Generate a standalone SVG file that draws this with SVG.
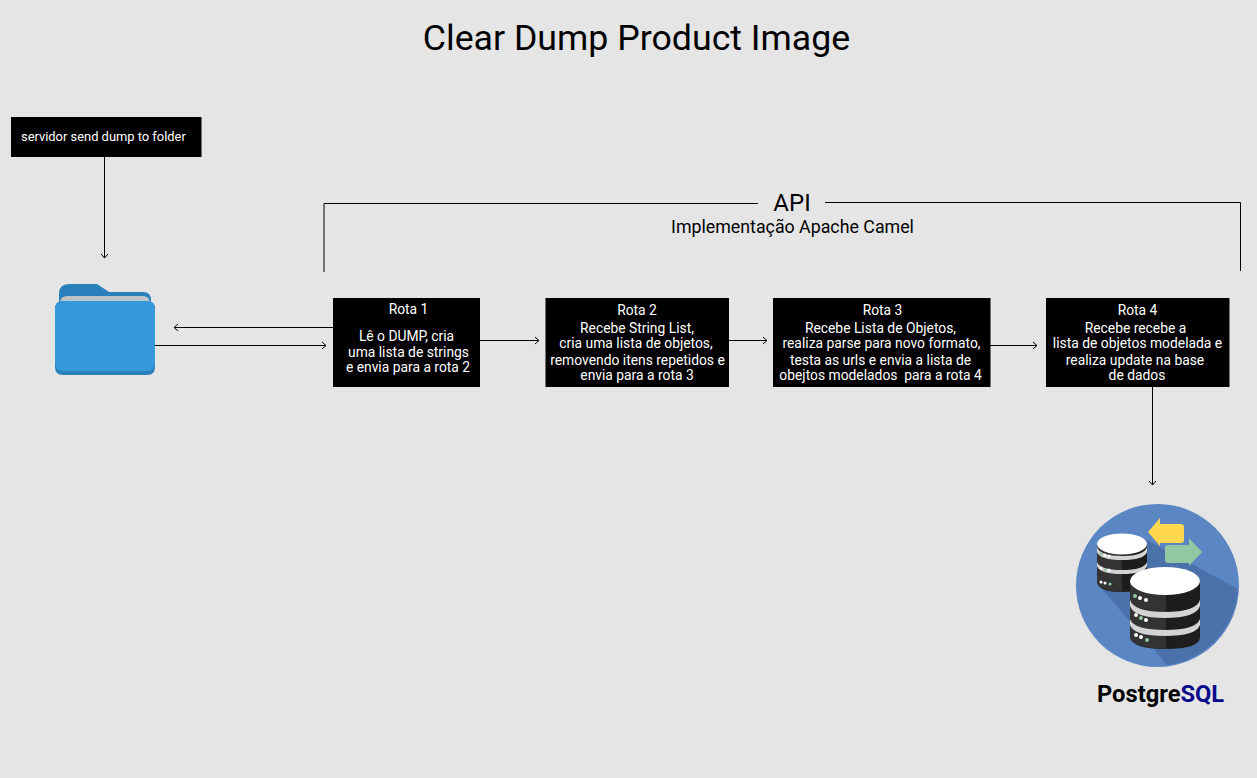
<svg xmlns="http://www.w3.org/2000/svg" width="1257" height="778" viewBox="0 0 1257 778">
<style>
text{font-family:Roboto,"Liberation Sans",sans-serif}
.box{fill:#000}
.t{fill:#fff;font-size:13.85px;text-anchor:middle}
.c{fill:none;stroke:#000;stroke-width:1}
.a{marker-end:url(#ah)}
</style>
<defs>
<marker id="ah" markerUnits="userSpaceOnUse" markerWidth="8" markerHeight="10" refX="6" refY="5" orient="auto"><path d="M2,1.5 L6,5 L2,8.500" fill="none" stroke="#000" stroke-width="1"/></marker>
</defs>
<rect width="1257" height="778" fill="#e5e5e5"/>
<text id="title" x="636.500" y="50" font-size="35.700" text-anchor="middle" fill="#000">Clear Dump Product Image</text>
<g id="connectors">
<path class="c a" d="M104.500,157V258"/>
<path class="c a" d="M333,327.500H174"/>
<path class="c a" d="M155,345.500H326"/>
<path class="c a" d="M480,340.500H539"/>
<path class="c a" d="M729,340.500H767"/>
<path class="c a" d="M990,345.500H1037"/>
<path class="c a" d="M1152.500,387V485"/>
</g>
<g id="api-bracket">
<path class="c" d="M324,272V203.500H758M825,202.500H1240.500V271"/>
<text x="792" y="211" font-size="24" text-anchor="middle">API</text>
<text x="792.500" y="233" font-size="17.800" text-anchor="middle">Implementação Apache Camel</text>
</g>
<g id="dump-source">
<rect class="box" x="11" y="117" width="190.500" height="40"/>
<text x="21" y="141" fill="#fff" font-size="12.900">servidor send dump to folder</text>
</g>
<g id="folder">
<path d="M59,310V294Q59,284 69,284H97L109,292H143Q151,292 151,300V310Z" fill="#2980ba"/>
<path d="M60,302Q61,296 67,296H143Q149,296 150,302V310H60Z" fill="#bdc3c7"/>
<path d="M55,309Q55,301 63,301H147Q155,301 155,309V367Q155,375 147,375H63Q55,375 55,367Z" fill="#2980ba"/>
<path d="M55,309Q55,301 63,301H147Q155,301 155,309V362Q155,371 147,371H63Q55,371 55,362Z" fill="#3498db"/>
</g>
<g id="rota-1">
<rect class="box" x="333" y="298" width="147" height="89"/>
<text class="t" x="408.500" y="314">Rota 1</text>
<text class="t" x="406.500" y="341">Lê o DUMP, cria</text>
<text class="t" x="408.500" y="357">uma lista de strings</text>
<text class="t" x="408" y="372">e envia para a rota 2</text>
</g>
<g id="rota-2">
<rect class="box" x="545.500" y="298" width="183.500" height="89"/>
<text class="t" x="637" y="315">Rota 2</text>
<text class="t" x="637" y="333">Recebe String List,</text>
<text class="t" x="636" y="348">cria uma lista de objetos,</text>
<text class="t" x="637.500" y="365">removendo itens repetidos e</text>
<text class="t" x="637" y="380">envia para a rota 3</text>
</g>
<g id="rota-3">
<rect class="box" x="773" y="298" width="217.500" height="89"/>
<text class="t" x="882.500" y="315">Rota 3</text>
<text class="t" x="880.500" y="333">Recebe Lista de Objetos,</text>
<text class="t" x="881.500" y="348">realiza parse para novo formato,</text>
<text class="t" x="880.500" y="365">testa as urls e envia a lista de</text>
<text class="t" x="880.500" y="380" xml:space="preserve">obejtos modelados  para a rota 4</text>
</g>
<g id="rota-4">
<rect class="box" x="1046" y="298" width="183.500" height="89"/>
<text class="t" x="1137.500" y="315">Rota 4</text>
<text class="t" x="1135.500" y="333">Recebe recebe a</text>
<text class="t" x="1137.500" y="348">lista de objetos modelada e</text>
<text class="t" x="1135" y="365">realiza update na base</text>
<text class="t" x="1137" y="380">de dados</text>
</g>
<g id="postgresql">
<circle cx="1157.500" cy="585.500" r="81.500" fill="#5b86c4"/>
<path d="M1147,540L1238,589A81.500,81.500 0 0 1 1167,665L1103,590Z" fill="#4a71a9"/>
<path d="M1148,532L1160,518V524H1181Q1184,524 1184,527V540Q1184,543 1181,543H1160V546Z" fill="#ffd84f"/>
<path d="M1202,552L1189,538V545H1168Q1165,545 1165,548V560Q1165,563 1168,563H1189V566Z" fill="#93c8a2"/>
<g id="db-small">
<path d="M1097,544V582Q1098,592 1122,592Q1147,592 1147,582V544Z" fill="#1d1d1d"/>
<path d="M1097,544V582Q1098,590 1122,592V550Z" fill="#333"/>
<path d="M1097,562Q1100,570 1122,570Q1144,570 1147,562V566Q1144,574 1122,574Q1100,574 1097,566ZM1097,547Q1100,556 1122,556Q1144,556 1147,547V552Q1144,560 1122,560Q1100,560 1097,552Z" fill="#d3d3d3"/>
<ellipse cx="1122" cy="544" rx="25" ry="10.500" fill="#fff"/>
<circle cx="1101" cy="554" r="1.500" fill="#93c8a2"/><circle cx="1105" cy="555" r="1.500" fill="#fff"/><circle cx="1109" cy="556" r="1.500" fill="#fff"/>
<circle cx="1101" cy="568" r="1.500" fill="#fff"/><circle cx="1105" cy="570" r="1.500" fill="#93c8a2"/><circle cx="1109" cy="570" r="1.500" fill="#fff"/>
<circle cx="1101" cy="582" r="1.500" fill="#fff"/><circle cx="1105" cy="583" r="1.500" fill="#fff"/><circle cx="1110" cy="584" r="1.500" fill="#93c8a2"/>
</g>
<g id="db-large">
<path d="M1130,580V637Q1132,649 1165,649Q1200,649 1200,637V580Z" fill="#1d1d1d"/>
<path d="M1130,580V637Q1132,648 1166,649V590Z" fill="#333"/>
<path d="M1130,600Q1134,612 1165,612Q1196,612 1200,600V606Q1196,618 1165,618Q1134,618 1130,606ZM1130,619Q1134,630 1165,630Q1196,630 1200,619V625Q1196,636 1165,636Q1134,636 1130,625Z" fill="#d3d3d3"/>
<ellipse cx="1165" cy="581" rx="35" ry="14" fill="#fff"/>
<circle cx="1135" cy="596" r="2" fill="#93c8a2"/><circle cx="1140" cy="598" r="2" fill="#fff"/><circle cx="1146" cy="600" r="2" fill="#fff"/>
<circle cx="1136" cy="615" r="2" fill="#fff"/><circle cx="1141" cy="618" r="2" fill="#93c8a2"/><circle cx="1146" cy="620" r="2" fill="#fff"/>
<circle cx="1136" cy="635" r="2" fill="#fff"/><circle cx="1141" cy="637" r="2" fill="#fff"/><circle cx="1147" cy="640" r="2" fill="#93c8a2"/>
</g>
<text x="1097" y="702" font-size="23.700" font-weight="700" fill="#000">Postgre<tspan fill="#0a0a8c">SQL</tspan></text>
</g>
</svg>
